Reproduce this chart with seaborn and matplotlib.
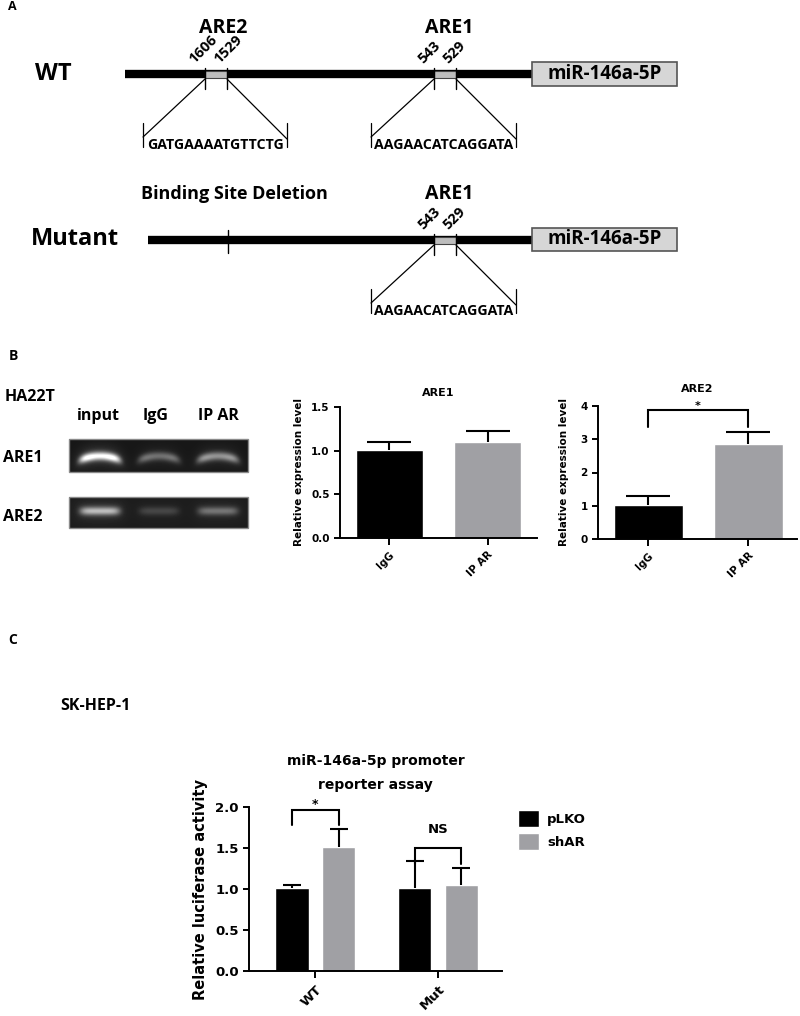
import numpy as np
import pandas as pd
import matplotlib
matplotlib.use("Agg")
import matplotlib.pyplot as plt
import seaborn as sns
from matplotlib.patches import Rectangle
from matplotlib import font_manager as fm

# ---------------- data ----------------
chip_groups = ["IgG", "IP AR"]
are1_mean = [1.01, 1.10]
are1_err = [0.09, 0.13]
are2_mean = [1.03, 2.85]
are2_err = [0.26, 0.36]

luc_constructs = ["WT", "Mut"]
luc_conditions = ["pLKO", "shAR"]
luc_plko_mean = [1.01, 1.01]
luc_plko_err = [0.04, 0.33]
luc_shar_mean = [1.51, 1.05]
luc_shar_err = [0.22, 0.21]

gel_lanes = ["input", "IgG", "IP AR"]
gel_are1_band = [0.95, 0.36, 0.50]
gel_are2_band = [0.65, 0.17, 0.36]

are1_ticks = [0.0, 0.5, 1.0, 1.5]
are2_ticks = [0, 1, 2, 3, 4]
luc_ticks = [0.0, 0.5, 1.0, 1.5, 2.0]

BLACK = "#000000"
GRAY = "#a0a0a4"

sns.set_theme(style="ticks")
plt.rcParams["font.family"] = ["DejaVu Sans"]
plt.rcParams["font.weight"] = "bold"
plt.rcParams["axes.labelweight"] = "bold"
plt.rcParams["axes.titleweight"] = "bold"
for k in ("text.color", "axes.labelcolor", "xtick.color", "ytick.color",
          "axes.edgecolor"):
    plt.rcParams[k] = "black"


def pick_bold(cands):
    for c in cands:
        try:
            path = fm.findfont(fm.FontProperties(family=c, weight="bold"),
                               fallback_to_default=False)
        except Exception:
            continue
        if "bold" in path.lower():
            return c
    return "DejaVu Sans"


LFONT = [pick_bold(["Open Sans", "Noto Sans", "Roboto", "Lato", "Liberation Sans"]),
         "DejaVu Sans"]

W, H = 800, 1016
fig = plt.figure(figsize=(8, 10.16), dpi=100)
fig.patch.set_facecolor("white")

bg = fig.add_axes([0, 0, 1, 1])
bg.set_axis_off()
bg.patch.set_alpha(0)


def px_axes(x0, y0, x1, y1):
    return fig.add_axes([x0 / W, 1 - y1 / H, (x1 - x0) / W, (y1 - y0) / H])


def t(x, y, s, size, ha="center", va="center", **kw):
    bg.text(x, y, s, fontsize=size, fontweight="bold", family=LFONT,
            ha=ha, va=va, color="black", **kw)


# ---------------- panel A ----------------
t(12, 6, "A", 9)


def construct(y, x_start, sites, ybox, deletion_x=None):
    bg.plot([x_start, 532], [y, y], color="black", lw=6,
            solid_capstyle="butt", zorder=2)
    if deletion_x is not None:
        bg.plot([deletion_x, deletion_x], [y - 10, y + 13], color="black",
                lw=1.0, zorder=3)
    for (xa, xb, la, lb, seq, bl, br) in sites:
        bg.add_patch(Rectangle((xa, y - 3.5), xb - xa, 7, fc="#bdbdbd",
                               ec="#444444", lw=0.8, zorder=3))
        for xx in (xa, xb):
            bg.plot([xx, xx], [y - 6, y + 15], color="black", lw=1.0, zorder=3)
        bg.plot([xa, bl], [y + 5, y + 63], color="black", lw=0.9)
        bg.plot([xb, br], [y + 5, y + 65], color="black", lw=0.9)
        bg.plot([bl, bl], [y + 49, y + 73], color="black", lw=0.9)
        bg.plot([br, br], [y + 49, y + 73], color="black", lw=0.9)
        t((bl + br) / 2, y + 71, seq, 10.2)
        t(xa - 9, y - 8, la, 10.5, ha="left", va="bottom", rotation=45,
          rotation_mode="anchor")
        t(xb - 6, y - 8, lb, 10.5, ha="left", va="bottom", rotation=45,
          rotation_mode="anchor")
    bg.add_patch(Rectangle((532, ybox[0]), 145, ybox[1] - ybox[0], fc="#d6d6d6",
                           ec="#555555", lw=1.2, zorder=3))
    t(604.5, (ybox[0] + ybox[1]) / 2, "miR-146a-5P", 13.5)


construct(74, 125, [(205, 227, "1606", "1529", "GATGAAAATGTTCTG", 143, 287),
                    (434, 456, "543", "529", "AAGAACATCAGGATA", 371, 516)],
          ybox=(62, 86))
t(223.5, 28, "ARE2", 14)
t(449.5, 28, "ARE1", 14)
t(35, 74, "WT", 17, ha="left")

construct(240, 148, [(434, 456, "543", "529", "AAGAACATCAGGATA", 371, 516)],
          ybox=(228, 251), deletion_x=228)
t(234, 194, "Binding Site Deletion", 13)
t(449.5, 194, "ARE1", 14)
t(31, 239, "Mutant", 17, ha="left")

# ---------------- panel B: gel ----------------
t(13, 356, "B", 10)
t(5, 397, "HA22T", 11.5, ha="left")
for name, xc in zip(gel_lanes, [98, 156, 218]):
    t(xc, 416, name, 11.5)
t(3, 458, "ARE1", 11.5, ha="left")
t(3, 517, "ARE2", 11.5, ha="left")


def gel(y0, y1, bands, yband, arc, base):
    x0, x1 = 69, 248
    xs = np.arange(x0, x1) + 0.5
    ys = np.arange(y0, y1) + 0.5
    X, Y = np.meshgrid(xs, ys)
    img = np.full(X.shape, base)
    for inten, xc in zip(bands, [100, 159, 218]):
        hw = 20.0
        u = (X - xc) / hw
        px = np.exp(-np.abs(u) ** 6)
        yc = yband + arc * u ** 2
        py = np.exp(-0.5 * ((Y - yc) / 3.0) ** 2)
        glow = np.exp(-np.abs(u / 1.25) ** 4) * np.exp(-0.5 * ((Y - yc) / 8.0) ** 2)
        img += inten * (px * py * (1 + 0.35 * arc / 4 * u ** 2) * 0.85 + 0.12 * glow)
    img = np.clip(img, 0, 1)
    bg.imshow(img, extent=(x0, x1, y1, y0), cmap="gray", vmin=0, vmax=1,
              aspect="auto", interpolation="bilinear", zorder=2)
    bg.add_patch(Rectangle((x0, y0), x1 - x0, y1 - y0, fc="none",
                           ec="#8a8a8a", lw=1.0, zorder=3))


gel(439, 472, gel_are1_band, 456, 4.0, 0.09)
gel(497, 528, gel_are2_band, 511, 0.0, 0.11)


# ---------------- bar chart helpers ----------------
def style(ax, ticks, labels, fs, lw=1.4):
    ax.set_yticks(ticks)
    ax.set_yticklabels(labels)
    sns.despine(ax=ax)
    for s in ("left", "bottom"):
        ax.spines[s].set_linewidth(lw)
        ax.spines[s].set_color("black")
    ax.tick_params(axis="both", width=lw, length=4, labelsize=fs,
                   direction="out", colors="black")
    ax.tick_params(axis="x", length=5)
    ax.set_facecolor("none")
    for lab in ax.get_xticklabels() + ax.get_yticklabels():
        lab.set_fontweight("bold")
    for lab in ax.get_xticklabels():
        lab.set_rotation(45)
        lab.set_ha("right")
        lab.set_rotation_mode("anchor")


def errbars(ax, bars, errs, capsize, lw=1.5):
    for b, e in zip(bars, errs):
        xc = b.get_x() + b.get_width() / 2
        eb = ax.errorbar(xc, b.get_height(), yerr=[[0], [e]], fmt="none",
                         ecolor="black", elinewidth=lw, capsize=capsize,
                         capthick=lw, zorder=1)
        caps = eb[1]
        if len(caps) == 2:
            caps[0].set_visible(False)


def bracket(ax, xa, xb, ylow, yhigh, lw=1.5):
    ax.plot([xa, xa, xb, xb], [ylow, yhigh, yhigh, ylow], color="black",
            lw=lw, clip_on=False, solid_joinstyle="miter")


def centers(bars):
    return [b.get_x() + b.get_width() / 2 for b in bars]


# ---------------- panel B: ARE1 ----------------
ax1 = px_axes(340, 407, 537, 538)
df1 = pd.DataFrame({"group": chip_groups, "value": are1_mean})
sns.barplot(data=df1, x="group", y="value", hue="group", palette=[BLACK, GRAY],
            width=0.68, legend=False, errorbar=None, saturation=1, ax=ax1)
bars1 = [b for c in ax1.containers for b in c]
errbars(ax1, bars1, are1_err, capsize=16)
ax1.set_xlim(-0.5, 1.5)
ax1.set_ylim(0, 1.5)
style(ax1, are1_ticks, [f"{v:.1f}" for v in are1_ticks], 7.5)
ax1.set_xlabel("")
ax1.set_ylabel("Relative expression level", fontsize=7.5, labelpad=5)
ax1.set_title("ARE1", fontsize=8, pad=8)

# ---------------- panel B: ARE2 ----------------
ax2 = px_axes(598, 406, 797, 539)
df2 = pd.DataFrame({"group": chip_groups, "value": are2_mean})
sns.barplot(data=df2, x="group", y="value", hue="group", palette=[BLACK, GRAY],
            width=0.69, legend=False, errorbar=None, saturation=1, ax=ax2)
bars2 = [b for c in ax2.containers for b in c]
errbars(ax2, bars2, are2_err, capsize=16)
ax2.set_xlim(-0.5, 1.49)
ax2.set_ylim(0, 4)
style(ax2, are2_ticks, [str(v) for v in are2_ticks], 7.5)
ax2.set_xlabel("")
ax2.set_ylabel("Relative expression level", fontsize=7.5, labelpad=8)
ax2.set_title("ARE2", fontsize=8, pad=10)
c2 = centers(bars2)
bracket(ax2, c2[0], c2[1], 3.37, 3.88)
ax2.text((c2[0] + c2[1]) / 2, 3.86, "*", ha="center", va="bottom",
         fontsize=8, fontweight="bold")

# ---------------- panel C ----------------
t(13, 640, "C", 10)
t(60, 706, "SK-HEP-1", 11.5, ha="left")

ax3 = px_axes(249, 807, 502, 971)
df3 = pd.DataFrame({
    "construct": luc_constructs * 2,
    "condition": [luc_conditions[0]] * 2 + [luc_conditions[1]] * 2,
    "value": luc_plko_mean + luc_shar_mean,
})
sns.barplot(data=df3, x="construct", y="value", hue="condition",
            palette=[BLACK, GRAY], width=0.76, gap=0.29, errorbar=None,
            saturation=1, ax=ax3)
bars_p = list(ax3.containers[0])
bars_s = list(ax3.containers[1])
errbars(ax3, bars_p, luc_plko_err, capsize=6.5)
errbars(ax3, bars_s, luc_shar_err, capsize=6.5)
ax3.set_xlim(-0.54, 1.52)
ax3.set_ylim(0, 2.0)
style(ax3, luc_ticks, [f"{v:.1f}" for v in luc_ticks], 9.5)
ax3.set_xlabel("")
ax3.set_ylabel("Relative luciferase activity", fontsize=10.5, labelpad=5)
ax3.set_title("miR-146a-5p promoter\nreporter assay", fontsize=10,
              pad=13, linespacing=1.9)
cp, cs = centers(bars_p), centers(bars_s)
bracket(ax3, cp[0], cs[0], 1.78, 1.967)
ax3.text((cp[0] + cs[0]) / 2, 1.95, "*", ha="center", va="bottom",
         fontsize=9, fontweight="bold")
bracket(ax3, cp[1], cs[1], 1.31, 1.496)
ax3.text((cp[1] + cs[1]) / 2, 1.72, "NS", ha="center", va="center",
         fontsize=9.5, fontweight="bold")
ax3.legend(title=None, frameon=False, loc="upper left",
           bbox_to_anchor=(518 / W, 1 - 810 / H), bbox_transform=fig.transFigure,
           handlelength=1.6, handleheight=1.6, labelspacing=0.45,
           handletextpad=0.6, borderaxespad=0, borderpad=0,
           prop={"weight": "bold", "size": 9.5})

bg.set_xlim(0, W)
bg.set_ylim(H, 0)

fig.savefig("out.png", dpi=100, facecolor="white")
